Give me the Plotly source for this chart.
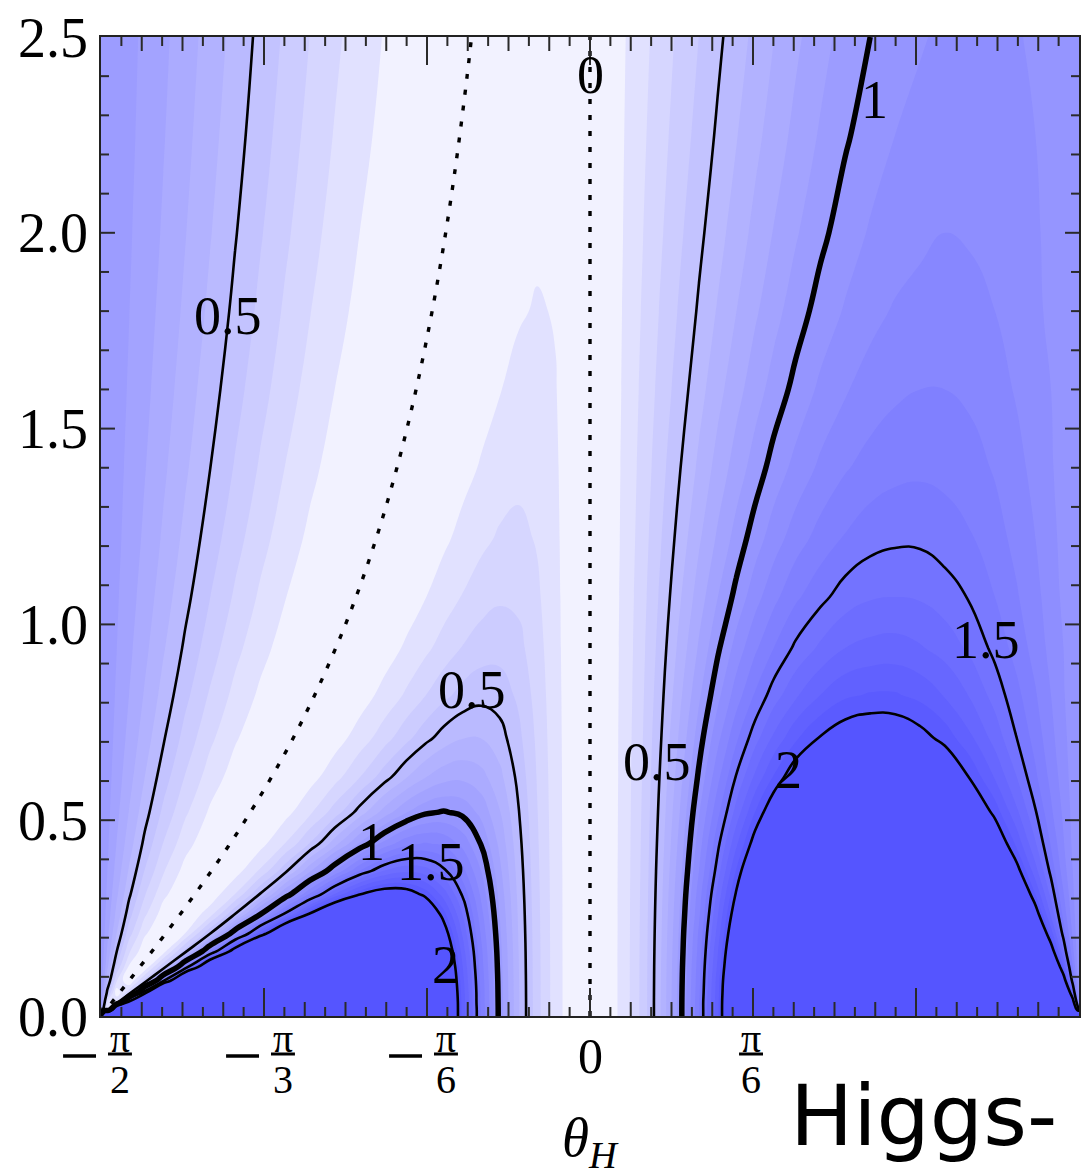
import numpy as np
import plotly.graph_objects as go

# ---- grid: theta_H (rad) columns, vertical-axis rows ----
theta_cols = [-1.5708, -1.5508, -1.5208, -1.4808, -1.4308, -1.3708, -1.3008, -1.2208,
              -1.14, -1.06, -0.98, -0.90, -0.82, -0.74, -0.66, -0.59, -0.53, -0.47, -0.41,
              -0.35, -0.29, -0.23, -0.17, -0.11, -0.055, 0.0, 0.055, 0.11, 0.17, 0.23, 0.29,
              0.35, 0.41, 0.47, 0.53, 0.59, 0.66, 0.74, 0.82, 0.90, 0.98, 1.06, 1.14,
              1.2208, 1.3008, 1.3708, 1.4308, 1.4808, 1.5208, 1.5508, 1.5708]
y_rows = [0, .015, .035, .06, .09, .125, .165, .21, .26, .31, .37, .44, .52, .61, .71, .82,
          .94, 1.07, 1.22, 1.4, 1.6, 1.8, 2.0, 2.25, 2.5]

# values along each theta column, bottom (y=0) to top (y=2.5)
z_col00 = [11.8, .881, .948, .970, .980, .985, .989, .991, .993, .994, .995, .996, .996, .997, .997, .998, .998, .998, .998, .999, .999, .999, .999, .999, .999]
z_col01 = [11.8, .120, .197, .466, .626, .723, .787, .831, .863, .884, .902, .918, .930, .940, .949, .955, .961, .966, .970, .974, .977, .979, .981, .983, .985]
z_col02 = [11.8, 3.95, .198, .030, .211, .379, .506, .600, .670, .720, .762, .798, .828, .852, .872, .888, .902, .913, .924, .933, .941, .947, .952, .957, .961]
z_col03 = [11.7, 8.19, 2.19, .269, .000, .083, .218, .342, .444, .520, .588, .647, .696, .737, .771, .800, .823, .843, .861, .877, .891, .902, .911, .920, .927]
z_col04 = [11.6, 10.0, 5.31, 1.67, .333, .017, .023, .115, .220, .310, .397, .475, .543, .601, .650, .691, .726, .755, .782, .806, .827, .844, .857, .871, .881]
z_col05 = [11.3, 10.6, 7.71, 3.90, 1.44, .392, .055, .001, .051, .124, .211, .297, .378, .449, .512, .565, .611, .650, .686, .719, .748, .770, .789, .807, .822]
z_col06 = [11.0, 10.6, 8.94, 6.00, 3.12, 1.32, .447, .102, .004, .012, .064, .138, .218, .295, .365, .428, .483, .531, .575, .617, .653, .682, .705, .729, .748]
z_col07 = [10.4, 10.2, 9.28, 7.34, 4.83, 2.65, 1.25, .500, .155, .030, .000, .028, .085, .153, .223, .289, .349, .402, .453, .502, .544, .579, .607, .635, .659]
z_col08 = [9.74, 9.62, 9.08, 7.83, 5.94, 3.89, 2.22, 1.13, .504, .206, .053, .002, .012, .055, .111, .171, .230, .285, .338, .391, .438, .476, .507, .540, .566]
z_col09 = [8.98, 8.91, 8.57, 7.77, 6.44, 4.75, 3.12, 1.84, .988, .512, .215, .062, .005, .005, .037, .083, .134, .185, .237, .289, .338, .378, .411, .446, .474]
z_col10 = [8.14, 8.09, 7.88, 7.37, 6.46, 5.19, 3.79, 2.51, 1.53, .907, .469, .202, .063, .007, .002, .025, .061, .104, .150, .199, .247, .286, .320, .355, .384]
z_col11 = [7.24, 7.21, 7.08, 6.75, 6.15, 5.26, 4.15, 3.02, 2.03, 1.33, .783, .408, .181, .060, .009, .001, .016, .044, .081, .124, .166, .204, .236, .270, .299]
z_col12 = [6.31, 6.29, 6.21, 6.00, 5.62, 5.01, 4.21, 3.30, 2.42, 1.72, 1.11, .657, .348, .160, .057, .011, .000, .010, .032, .064, .100, .133, .162, .194, .221]
z_col13 = [5.37, 5.35, 5.30, 5.18, 4.94, 4.55, 4.00, 3.34, 2.62, 2.00, 1.41, .914, .546, .297, .142, .055, .014, .000, .005, .023, .049, .075, .100, .128, .152]
z_col14 = [4.44, 4.43, 4.40, 4.32, 4.18, 3.94, 3.60, 3.15, 2.62, 2.13, 1.61, 1.14, .746, .456, .257, .130, .056, .017, .001, .003, .016, .033, .051, .074, .094]
z_col15 = [3.65, 3.65, 3.63, 3.58, 3.50, 3.35, 3.13, 2.83, 2.47, 2.10, 1.68, 1.27, .895, .594, .370, .215, .114, .052, .017, .002, .001, .010, .022, .038, .054]
z_col16 = [3.02, 3.01, 3.00, 2.97, 2.92, 2.83, 2.68, 2.49, 2.24, 1.97, 1.65, 1.31, .981, .695, .465, .295, .175, .096, .044, .013, .001, .001, .006, .016, .028]
z_col17 = [2.42, 2.42, 2.41, 2.39, 2.36, 2.31, 2.22, 2.10, 1.94, 1.76, 1.53, 1.28, 1.01, .762, .546, .372, .242, .148, .082, .036, .012, .002, .000, .003, .010]
z_col18 = [1.87, 1.87, 1.87, 1.86, 1.84, 1.81, 1.76, 1.69, 1.60, 1.49, 1.34, 1.17, .976, .779, .595, .435, .305, .205, .127, .069, .033, .013, .004, .000, .001]
z_col19 = [1.39, 1.39, 1.38, 1.38, 1.37, 1.35, 1.33, 1.29, 1.24, 1.18, 1.10, .994, .871, .736, .598, .467, .352, .255, .174, .108, .062, .034, .017, .006, .001]
z_col20 = [.965, .965, .964, .961, .957, .949, .938, .920, .896, .868, .827, .774, .707, .629, .542, .452, .365, .286, .213, .147, .096, .062, .039, .021, .010]
z_col21 = [.613, .613, .613, .612, .610, .607, .603, .596, .587, .575, .559, .537, .508, .472, .429, .381, .330, .278, .225, .172, .126, .091, .065, .043, .027]
z_col22 = [.338, .338, .338, .337, .337, .336, .335, .333, .330, .327, .322, .315, .306, .294, .280, .262, .241, .218, .192, .162, .133, .107, .085, .064, .048]
z_col23 = [.142, .142, .142, .142, .142, .142, .142, .141, .141, .141, .140, .139, .138, .137, .135, .132, .128, .124, .119, .113, .104, .095, .085, .076, .065]
z_col24 = [.036, .036, .036, .036, .036, .036, .036, .036, .036, .036, .036, .035, .035, .035, .035, .035, .035, .035, .034, .034, .033, .032, .031, .029, .028]
z_col25 = [0.0] * 25
z_col26 = [.036, .036, .036, .036, .036, .036, .036, .036, .036, .036, .036, .035, .035, .035, .035, .035, .035, .035, .034, .034, .033, .033, .032, .032, .031]
z_col27 = [.142, .142, .142, .142, .142, .142, .142, .141, .141, .141, .140, .139, .138, .136, .135, .132, .130, .127, .123, .119, .114, .110, .105, .100, .094]
z_col28 = [.338, .338, .338, .337, .337, .336, .335, .333, .331, .329, .325, .321, .315, .308, .300, .290, .279, .268, .255, .240, .225, .211, .198, .184, .171]
z_col29 = [.613, .613, .613, .612, .610, .608, .604, .599, .592, .584, .574, .560, .544, .525, .503, .479, .454, .428, .400, .370, .340, .315, .292, .268, .248]
z_col30 = [.965, .965, .964, .962, .958, .952, .942, .930, .914, .896, .872, .842, .808, .768, .725, .681, .636, .591, .545, .498, .453, .416, .385, .352, .325]
z_col31 = [1.39, 1.39, 1.39, 1.38, 1.37, 1.36, 1.34, 1.32, 1.28, 1.25, 1.20, 1.15, 1.09, 1.02, .952, .882, .814, .749, .685, .621, .562, .514, .475, .434, .401]
z_col32 = [1.87, 1.87, 1.87, 1.86, 1.85, 1.82, 1.79, 1.74, 1.69, 1.63, 1.55, 1.47, 1.37, 1.27, 1.17, 1.07, .982, .898, .816, .737, .666, .609, .562, .515, .477]
z_col33 = [2.42, 2.42, 2.41, 2.40, 2.37, 2.33, 2.27, 2.20, 2.11, 2.02, 1.91, 1.78, 1.64, 1.51, 1.38, 1.25, 1.14, 1.03, .938, .845, .763, .699, .647, .594, .553]
z_col34 = [3.02, 3.01, 3.00, 2.98, 2.94, 2.87, 2.78, 2.67, 2.54, 2.40, 2.25, 2.07, 1.90, 1.72, 1.56, 1.41, 1.28, 1.16, 1.05, .944, .855, .784, .728, .671, .626]
z_col35 = [3.65, 3.65, 3.63, 3.59, 3.53, 3.43, 3.30, 3.14, 2.95, 2.77, 2.56, 2.34, 2.12, 1.91, 1.72, 1.55, 1.40, 1.27, 1.15, 1.04, .939, .864, .805, .745, .698]
z_col36 = [4.44, 4.43, 4.40, 4.34, 4.24, 4.09, 3.89, 3.66, 3.40, 3.15, 2.88, 2.61, 2.34, 2.10, 1.88, 1.68, 1.52, 1.38, 1.25, 1.13, 1.03, .950, .888, .827, .778]
z_col37 = [5.37, 5.35, 5.31, 5.21, 5.05, 4.82, 4.53, 4.19, 3.84, 3.52, 3.18, 2.84, 2.53, 2.25, 2.01, 1.80, 1.62, 1.47, 1.34, 1.22, 1.12, 1.04, .974, .911, .862]
z_col38 = [6.31, 6.29, 6.22, 6.07, 5.82, 5.48, 5.07, 4.62, 4.17, 3.77, 3.37, 2.99, 2.65, 2.35, 2.09, 1.88, 1.70, 1.55, 1.41, 1.29, 1.19, 1.11, 1.05, .986, .938]
z_col39 = [7.24, 7.21, 7.10, 6.87, 6.51, 6.03, 5.49, 4.92, 4.37, 3.91, 3.46, 3.05, 2.69, 2.38, 2.12, 1.91, 1.73, 1.59, 1.46, 1.34, 1.24, 1.17, 1.11, 1.05, 1.00]
z_col40 = [8.14, 8.10, 7.93, 7.59, 7.07, 6.43, 5.73, 5.04, 4.42, 3.91, 3.44, 3.02, 2.66, 2.36, 2.11, 1.91, 1.74, 1.60, 1.48, 1.37, 1.28, 1.21, 1.15, 1.10, 1.06]
z_col41 = [8.98, 8.91, 8.66, 8.16, 7.44, 6.61, 5.76, 4.98, 4.31, 3.79, 3.32, 2.91, 2.56, 2.28, 2.05, 1.87, 1.71, 1.59, 1.48, 1.38, 1.30, 1.23, 1.18, 1.13, 1.09]
z_col42 = [9.74, 9.64, 9.24, 8.52, 7.55, 6.52, 5.56, 4.72, 4.04, 3.54, 3.09, 2.72, 2.41, 2.16, 1.96, 1.79, 1.66, 1.55, 1.45, 1.37, 1.30, 1.24, 1.20, 1.15, 1.12]
z_col43 = [10.4, 10.2, 9.62, 8.57, 7.32, 6.12, 5.09, 4.27, 3.63, 3.18, 2.79, 2.46, 2.20, 1.99, 1.82, 1.69, 1.58, 1.49, 1.41, 1.34, 1.28, 1.23, 1.19, 1.16, 1.13]
z_col44 = [11.0, 10.7, 9.65, 8.16, 6.64, 5.36, 4.37, 3.64, 3.10, 2.73, 2.42, 2.16, 1.96, 1.79, 1.66, 1.56, 1.47, 1.40, 1.34, 1.29, 1.24, 1.20, 1.17, 1.15, 1.12]
z_col45 = [11.3, 10.8, 9.18, 7.25, 5.61, 4.41, 3.57, 2.99, 2.57, 2.29, 2.06, 1.87, 1.72, 1.60, 1.50, 1.43, 1.36, 1.31, 1.27, 1.23, 1.19, 1.17, 1.14, 1.12, 1.11]
z_col46 = [11.6, 10.5, 8.11, 5.89, 4.38, 3.42, 2.79, 2.38, 2.09, 1.90, 1.74, 1.61, 1.51, 1.42, 1.36, 1.31, 1.26, 1.23, 1.20, 1.17, 1.14, 1.12, 1.11, 1.10, 1.08]
z_col47 = [11.7, 9.60, 6.35, 4.30, 3.17, 2.52, 2.12, 1.86, 1.68, 1.57, 1.47, 1.39, 1.32, 1.27, 1.23, 1.20, 1.17, 1.15, 1.13, 1.11, 1.10, 1.08, 1.08, 1.07, 1.06]
z_col48 = [11.8, 7.48, 4.16, 2.80, 2.16, 1.81, 1.60, 1.46, 1.37, 1.31, 1.25, 1.21, 1.18, 1.15, 1.13, 1.11, 1.10, 1.08, 1.07, 1.06, 1.06, 1.05, 1.04, 1.04, 1.03]
z_col49 = [11.8, 3.95, 2.20, 1.67, 1.43, 1.31, 1.23, 1.18, 1.14, 1.12, 1.10, 1.08, 1.07, 1.06, 1.05, 1.04, 1.04, 1.03, 1.03, 1.03, 1.02, 1.02, 1.02, 1.02, 1.01]
z_col50 = [11.8, 1.12, 1.05, 1.03, 1.02, 1.01, 1.01, 1.01, 1.01, 1.01, 1.004, 1.004, 1.004, 1.004, 1.004, 1.004, 1.004, 1.004, 1.004, 1.004, 1.004, 1.004, 1.004, 1.004, 1.004]

# zero curves (dashed): the theta_H = 0 line and the curve leaving the lower-left corner
zero_curve_theta = [-1.5708, -1.4711, -1.3734, -1.2793, -1.1903, -1.1071, -0.9944, -0.8961,
                    -0.7854, -0.6947, -0.6202, -0.5586, -0.5071, -0.4636, -0.4266, -0.3948, -0.3805]
zero_curve_y = [0.0, 0.1, 0.2, 0.3, 0.4, 0.5, 0.65, 0.8, 1.0, 1.2, 1.4, 1.6, 1.8, 2.0, 2.2, 2.4, 2.5]
zero_line_theta = [0.0, 0.0]
zero_line_y = [0.0, 2.5]

# labelled contour levels and their label anchors (theta, y)
fill_levels = dict(start=0.1, end=2.0, size=0.1)
line_levels = [0.5, 1.0, 1.5, 2.0]
label_text = ["0.5", "0", "1", "0.5", "1", "1.5", "2", "0.5", "2", "1.5"]
label_theta = [-1.164, 0.0, 0.913, -0.378, -0.702, -0.510, -0.465, 0.215, 0.638, 1.273]
label_y = [1.787, 2.403, 2.339, 0.832, 0.444, 0.393, 0.130, 0.649, 0.628, 0.960]

y_ticks = [0.0, 0.5, 1.0, 1.5, 2.0, 2.5]
y_tick_text = ["0.0", "0.5", "1.0", "1.5", "2.0", "2.5"]
x_frac_ticks = [(-np.pi / 2, "2", True), (-np.pi / 3, "3", True), (-np.pi / 6, "6", True),
                (np.pi / 6, "6", False)]

cols = [globals()[f"z_col{i:02d}"] for i in range(len(theta_cols))]
Z = np.array(cols).T

SERIF = "Liberation Serif, Times New Roman, serif"
X0, X1, Y0, Y1 = -np.pi / 2, np.pi / 2, 0.0, 2.5
PW, PH = 980.0, 979.0                       # plot size in pixels
DX, DY = (X1 - X0) / PW, (Y1 - Y0) / PH     # data units per pixel

# white -> blue bands, one colour per 0.1 step (21 bands, the last one for >= 2)
n_band = 20
band_scale = []
for k in range(n_band + 1):
    g = int(round(242 - 157 * (k / n_band) ** 0.75))
    band_scale.append([k / n_band, f"rgb({g},{g},255)"])

fig = go.Figure()
fig.add_trace(go.Contour(
    x=theta_cols, y=y_rows, z=Z, autocontour=False,
    contours=dict(coloring="fill", showlines=False, **fill_levels),
    colorscale=band_scale, showscale=False, line=dict(width=0, smoothing=1.3),
    hoverinfo="skip"))

for lvl in line_levels:
    fig.add_trace(go.Contour(
        x=theta_cols, y=y_rows, z=Z, autocontour=False,
        contours=dict(start=lvl, end=lvl, size=0.5, coloring="none", showlines=True),
        line=dict(color="black", width=5.5 if lvl == 1.0 else 2.6, smoothing=1.3),
        showscale=False, hoverinfo="skip"))

dash_style = dict(color="black", width=3.4, dash="5px,11px")
fig.add_trace(go.Scatter(x=zero_curve_theta, y=zero_curve_y, mode="lines",
                         line=dict(shape="spline", **dash_style), hoverinfo="skip"))
fig.add_trace(go.Scatter(x=zero_line_theta, y=zero_line_y, mode="lines",
                         line=dash_style, hoverinfo="skip"))

# ---- frame ticks pointing inward on all four sides ----
tx, ty = [], []
for k in range(-23, 24):
    t = k * np.pi / 48
    L = (28 if k % 8 == 0 else (14 if k % 2 == 0 else 9)) * DY
    tx += [t, t, None, t, t, None]
    ty += [Y0, Y0 + L, None, Y1, Y1 - L, None]
for j in range(1, 25):
    yy = j / 10
    L = (14 if j % 5 == 0 else 8) * DX
    tx += [X0, X0 + L, None, X1, X1 - L, None]
    ty += [yy, yy, None, yy, yy, None]
fig.add_trace(go.Scatter(x=tx, y=ty, mode="lines", line=dict(color="#2a2a2a", width=2),
                         hoverinfo="skip"))

for txt, lx, ly in zip(label_text, label_theta, label_y):
    fig.add_annotation(x=lx, y=ly, text=txt, showarrow=False, xanchor="center",
                       yanchor="middle", font=dict(family=SERIF, size=54, color="black"))


def xp(theta):
    return (theta - X0) / (X1 - X0)


def hline(x0, x1, y, w):
    fig.add_shape(type="line", xref="paper", yref="paper", x0=x0, x1=x1, y0=y, y1=y,
                  line=dict(color="black", width=w))


# ---- stacked-fraction tick labels on the theta axis ----
for t, den, neg in x_frac_ticks:
    xc = xp(t) + (19 if neg else -2) / PW
    fig.add_annotation(x=xc, y=-22 / PH, xref="paper", yref="paper", text="π",
                       showarrow=False, xanchor="center", yanchor="middle",
                       font=dict(family=SERIF, size=40, color="black"))
    fig.add_annotation(x=xc, y=-63 / PH, xref="paper", yref="paper", text=den,
                       showarrow=False, xanchor="center", yanchor="middle",
                       font=dict(family=SERIF, size=40, color="black"))
    hline(xc - 12 / PW, xc + 12 / PW, -38 / PH, 3)
    if neg:
        hline(xp(t) - 38 / PW, xp(t) - 5 / PW, -40 / PH, 3.5)
fig.add_annotation(x=xp(0), y=-40 / PH, xref="paper", yref="paper", text="0",
                   showarrow=False, xanchor="center", yanchor="middle",
                   font=dict(family=SERIF, size=50, color="black"))
fig.add_annotation(x=xp(0), y=-125 / PH, xref="paper", yref="paper",
                   text="<i>θ</i><sub><i>H</i></sub>", showarrow=False,
                   xanchor="center", yanchor="middle",
                   font=dict(family=SERIF, size=55, color="black"))
fig.add_annotation(x=(789 - 101) / PW, y=-100 / PH, xref="paper", yref="paper",
                   text="Higgs-", showarrow=False, xanchor="left", yanchor="middle",
                   font=dict(family="DejaVu Sans", size=84, color="black"))

fig.update_layout(
    width=1083, height=1176, margin=dict(l=101, r=2, t=37, b=160),
    plot_bgcolor="white", paper_bgcolor="white", showlegend=False,
    xaxis=dict(range=[X0, X1], showgrid=False, zeroline=False,
               showline=True, linecolor="#222222", linewidth=1.8, mirror=True,
               ticks="", showticklabels=False),
    yaxis=dict(range=[Y0, Y1], showgrid=False, zeroline=False,
               showline=True, linecolor="#222222", linewidth=1.8, mirror=True,
               ticks="", tickmode="array", tickvals=y_ticks, ticktext=y_tick_text,
               tickfont=dict(family=SERIF, size=56, color="black"), ticklabelstandoff=0),
)

fig.write_html("out.html")
